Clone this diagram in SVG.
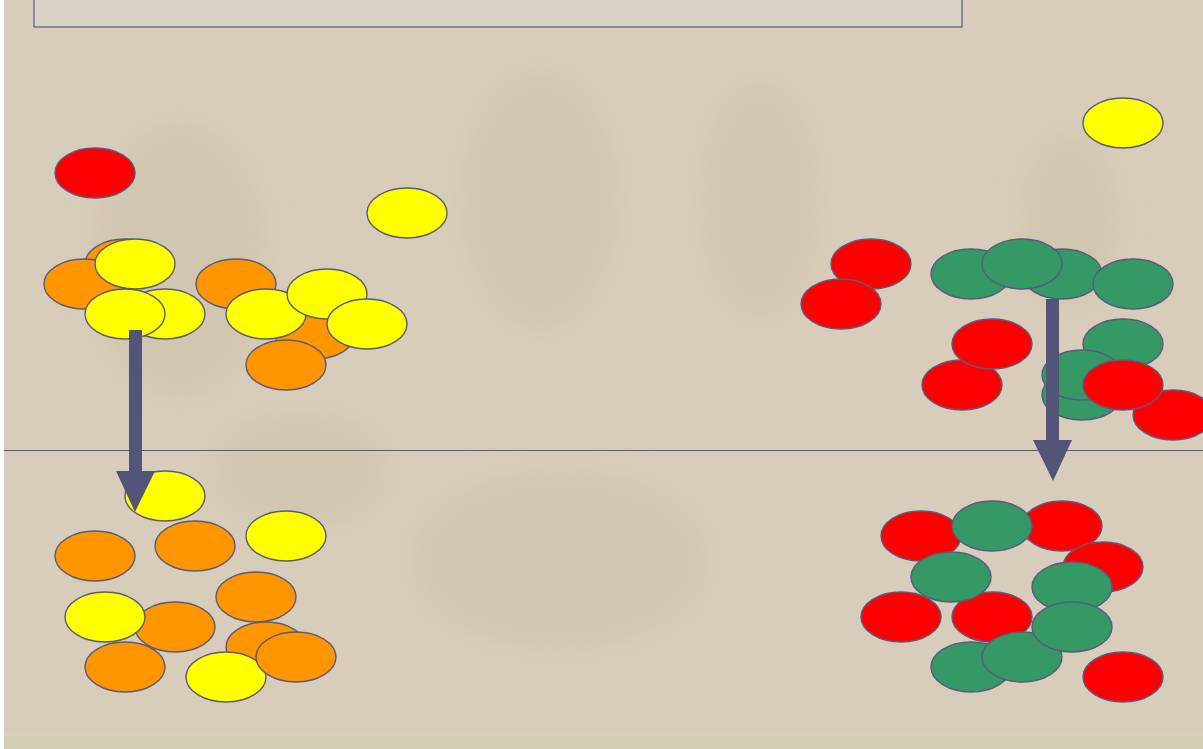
<svg xmlns="http://www.w3.org/2000/svg" width="1203" height="749" viewBox="0 0 1203 749">
<style>
.b{stroke:#5a5a7c;stroke-width:1.4}
.r{fill:#ff0000}.o{fill:#ff9600}.y{fill:#ffff00}.g{fill:#359966}
.ar{fill:#545478}
</style>
<defs>
<filter id="blur" x="-30%" y="-30%" width="160%" height="160%"><feGaussianBlur stdDeviation="14"/></filter>
</defs>
<rect x="0" y="0" width="1203" height="749" fill="#d7cdba"/>
<g id="texture" filter="url(#blur)" fill="#c4b79a" fill-opacity="0.3">
<ellipse cx="180" cy="260" rx="90" ry="140"/>
<ellipse cx="540" cy="200" rx="80" ry="130"/>
<ellipse cx="760" cy="200" rx="60" ry="120"/>
<ellipse cx="1070" cy="220" rx="50" ry="90"/>
<ellipse cx="560" cy="560" rx="150" ry="90"/>
<ellipse cx="300" cy="470" rx="90" ry="60"/>
</g>
<rect x="0" y="0" width="4" height="749" fill="#ffffff"/>
<rect x="4" y="734" width="1199" height="2" fill="#d8d3bd"/>
<rect x="4" y="736" width="1199" height="13" fill="#d2ceb2"/>
<rect id="titlebox" x="34" y="-2" width="928" height="29" fill="#d8d3c5" stroke="#5a5a7c" stroke-width="1.2"/>
<line id="divider" x1="4" y1="450.5" x2="1203" y2="450.5" stroke="#5a5a80" stroke-width="1.2"/>
<g id="top-left">
<ellipse class="b r" cx="95" cy="173" rx="40" ry="25"/>
<ellipse class="b y" cx="407" cy="213" rx="40" ry="25"/>
<ellipse class="b o" cx="125" cy="264" rx="40" ry="25"/>
<ellipse class="b o" cx="84" cy="284" rx="40" ry="25"/>
<ellipse class="b y" cx="135" cy="264" rx="40" ry="25"/>
<ellipse class="b y" cx="165" cy="314" rx="40" ry="25"/>
<ellipse class="b y" cx="125" cy="314" rx="40" ry="25"/>
<ellipse class="b o" cx="236" cy="284" rx="40" ry="25"/>
<ellipse class="b o" cx="315" cy="334" rx="40" ry="25"/>
<ellipse class="b y" cx="266" cy="314" rx="40" ry="25"/>
<ellipse class="b y" cx="327" cy="294" rx="40" ry="25"/>
<ellipse class="b y" cx="367" cy="324" rx="40" ry="25"/>
<ellipse class="b o" cx="286" cy="365" rx="40" ry="25"/>
</g>
<g id="bottom-left">
<ellipse class="b y" cx="165" cy="496" rx="40" ry="25"/>
<ellipse class="b o" cx="95" cy="556" rx="40" ry="25"/>
<ellipse class="b o" cx="195" cy="546" rx="40" ry="25"/>
<ellipse class="b y" cx="286" cy="536" rx="40" ry="25"/>
<ellipse class="b o" cx="256" cy="597" rx="40" ry="25"/>
<ellipse class="b o" cx="175" cy="627" rx="40" ry="25"/>
<ellipse class="b y" cx="105" cy="617" rx="40" ry="25"/>
<ellipse class="b o" cx="266" cy="647" rx="40" ry="25"/>
<ellipse class="b o" cx="125" cy="667" rx="40" ry="25"/>
<ellipse class="b y" cx="226" cy="677" rx="40" ry="25"/>
<ellipse class="b o" cx="296" cy="657" rx="40" ry="25"/>
</g>
<g id="top-right">
<ellipse class="b y" cx="1123" cy="123" rx="40" ry="25"/>
<ellipse class="b r" cx="871" cy="264" rx="40" ry="25"/>
<ellipse class="b r" cx="841" cy="304" rx="40" ry="25"/>
<ellipse class="b g" cx="971" cy="274" rx="40" ry="25"/>
<ellipse class="b g" cx="1062" cy="274" rx="40" ry="25"/>
<ellipse class="b g" cx="1022" cy="264" rx="40" ry="25"/>
<ellipse class="b g" cx="1133" cy="284" rx="40" ry="25"/>
<ellipse class="b g" cx="1123" cy="344" rx="40" ry="25"/>
<ellipse class="b r" cx="962" cy="385" rx="40" ry="25"/>
<ellipse class="b r" cx="992" cy="344" rx="40" ry="25"/>
<ellipse class="b g" cx="1082" cy="395" rx="40" ry="25"/>
<ellipse class="b g" cx="1082" cy="375" rx="40" ry="25"/>
<ellipse class="b r" cx="1173" cy="415" rx="40" ry="25"/>
<ellipse class="b r" cx="1123" cy="385" rx="40" ry="25"/>
</g>
<g id="bottom-right">
<ellipse class="b r" cx="921" cy="536" rx="40" ry="25"/>
<ellipse class="b r" cx="1062" cy="526" rx="40" ry="25"/>
<ellipse class="b g" cx="992" cy="526" rx="40" ry="25"/>
<ellipse class="b r" cx="1103" cy="567" rx="40" ry="25"/>
<ellipse class="b r" cx="992" cy="617" rx="40" ry="25"/>
<ellipse class="b g" cx="951" cy="577" rx="40" ry="25"/>
<ellipse class="b g" cx="1072" cy="587" rx="40" ry="25"/>
<ellipse class="b r" cx="901" cy="617" rx="40" ry="25"/>
<ellipse class="b g" cx="971" cy="667" rx="40" ry="25"/>
<ellipse class="b g" cx="1022" cy="657" rx="40" ry="25"/>
<ellipse class="b g" cx="1072" cy="627" rx="40" ry="25"/>
<ellipse class="b r" cx="1123" cy="677" rx="40" ry="25"/>
</g>
<g id="connectors">
<path class="ar" d="M129 330 H142 V471 H155 L135 512 L116 471 H129 Z"/>
<path class="ar" d="M1046 299 H1059 V440 H1072 L1053 481 L1033 440 H1046 Z"/>
</g>
</svg>
